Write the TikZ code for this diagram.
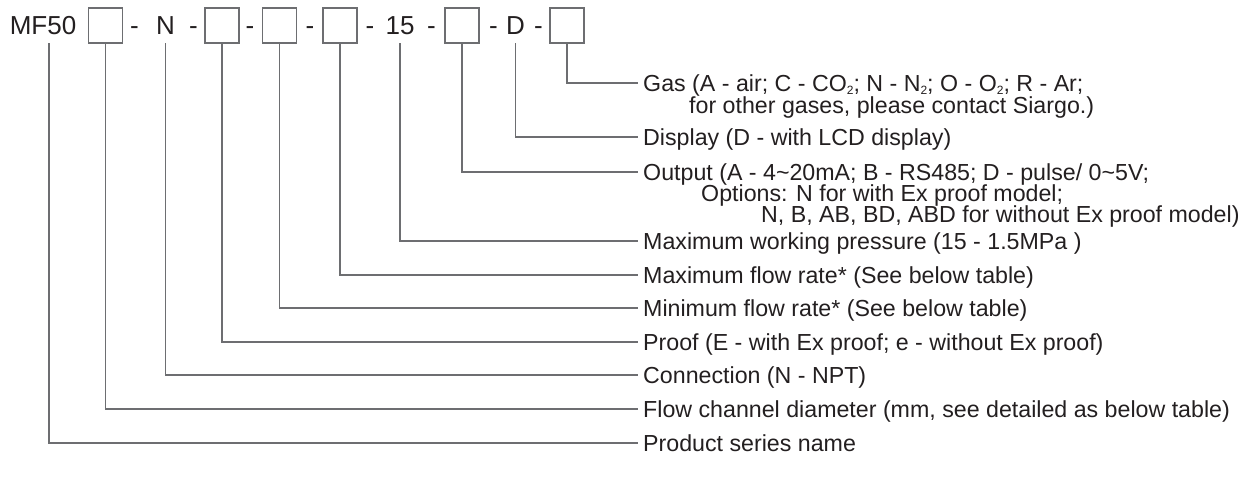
\documentclass[tikz,border=0pt]{standalone}
\usepackage{fontspec}
\setmainfont{Liberation Sans}
\usetikzlibrary{positioning}
\definecolor{ink}{HTML}{231F20}
\definecolor{leadgray}{HTML}{6D6E71}
\newcommand{\lowsub}[1]{\raisebox{-0.3ex}{\fontsize{12}{12}\selectfont #1}}
\tikzset{
  codebox/.style={
    draw=leadgray,
    line width=1.3pt,
    minimum width=34pt,
    minimum height=35pt,
    inner sep=0pt
  },
  codetext/.style={
    anchor=base,
    font=\fontsize{26}{30}\selectfont,
    text=ink,
    inner sep=0pt,
    text height=18.6pt,
    text depth=8pt
  },
  desc/.style={
    anchor=west,
    font=\fontsize{23.2}{26}\selectfont,
    text=ink,
    inner ysep=0pt,
    inner xsep=5pt,
    text height=16.6pt,
    text depth=0pt
  },
  lead/.style={
    draw=leadgray,
    line width=1.3pt
  }
}
\begin{document}
\begin{tikzpicture}[x=1pt,y=-1pt]
  \useasboundingbox (0,0) rectangle (1258,487);
  % model code
  \node[codetext] (mf) at (43,35) {MF50};
  \node[codebox] (b1) at (105.5,25.5) {};
  \node[codetext] (d1) at (134.5,35) {-};
  \node[codetext] (n) at (165.5,35) {N};
  \node[codetext] (d2) at (193.5,35) {-};
  \node[codebox] (b2) at (222,25.5) {};
  \node[codetext] (d3) at (250,35) {-};
  \node[codebox] (b3) at (279.5,25.5) {};
  \node[codetext] (d4) at (310,35) {-};
  \node[codebox] (b4) at (340,25.5) {};
  \node[codetext] (d5) at (370,35) {-};
  \node[codetext] (p15) at (400,35) {15};
  \node[codetext] (d6) at (431.5,35) {-};
  \node[codebox] (b5) at (462,25.5) {};
  \node[codetext] (d7) at (493.5,35) {-};
  \node[codetext] (d) at (515.5,35) {D};
  \node[codetext] (d8) at (538.5,35) {-};
  \node[codebox] (b6) at (567,25.5) {};
  % descriptions
  \node[desc] (lgas) at (638,83) {Gas (A - air; C - CO\lowsub{2}; N - N\lowsub{2}; O - O\lowsub{2}; R - Ar;};
  \node[desc] (lgas2) at (684,105) {for other gases, please contact Siargo.)};
  \node[desc] (ldisp) at (638,137) {Display (D - with LCD display)};
  \node[desc] (lout) at (638,172) {Output (A - 4\textasciitilde 20mA; B - RS485; D - pulse/ 0\textasciitilde 5V;};
  \node[desc] (lout2) at (696,193) {Options: N for with Ex proof model;};
  \node[desc] (lout3) at (756,214) {N, B, AB, BD, ABD for without Ex proof model)};
  \node[desc] (lpress) at (638,241) {Maximum working pressure (15 - 1.5MPa )};
  \node[desc] (lmax) at (638,275) {Maximum flow rate* (See below table)};
  \node[desc] (lmin) at (638,308) {Minimum flow rate* (See below table)};
  \node[desc] (lproof) at (638,342) {Proof (E - with Ex proof; e - without Ex proof)};
  \node[desc] (lconn) at (638,375) {Connection (N - NPT)};
  \node[desc] (ldiam) at (638,409) {Flow channel diameter (mm, see detailed as below table)};
  \node[desc] (lseries) at (638,443) {Product series name};
  % leaders
  \draw[lead] (b6.south) |- (lgas.west);
  \draw[lead] (d.south) |- (ldisp.west);
  \draw[lead] (b5.south) |- (lout.west);
  \draw[lead] (p15.south) |- (lpress.west);
  \draw[lead] (b4.south) |- (lmax.west);
  \draw[lead] (b3.south) |- (lmin.west);
  \draw[lead] (b2.south) |- (lproof.west);
  \draw[lead] (n.south) |- (lconn.west);
  \draw[lead] (b1.south) |- (ldiam.west);
  \draw[lead] ([xshift=6pt]mf.south) |- (lseries.west);
\end{tikzpicture}
\end{document}
